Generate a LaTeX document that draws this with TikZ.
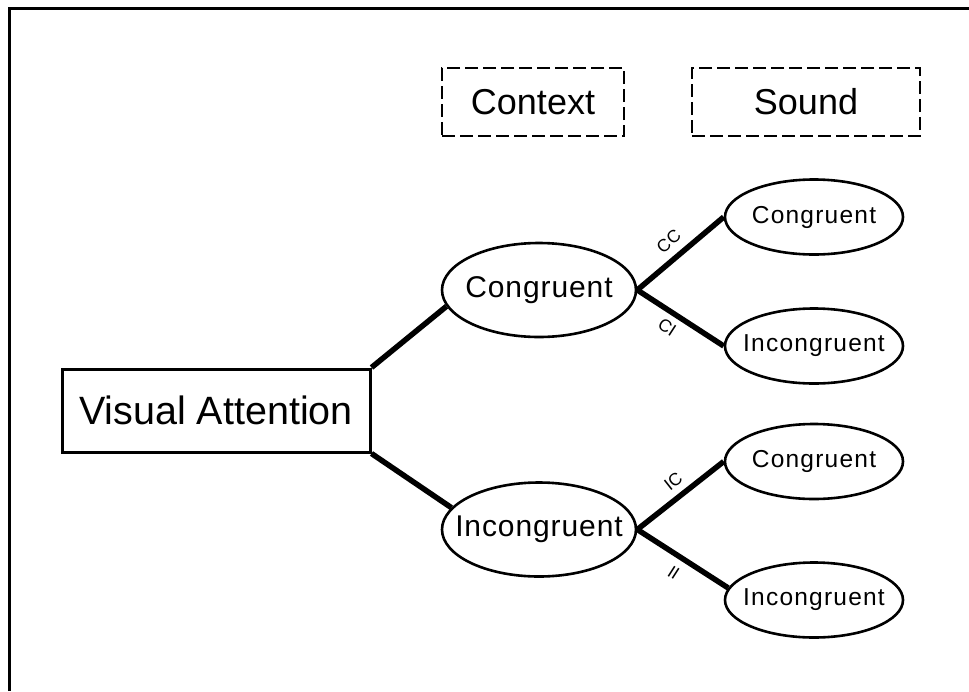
\documentclass[tikz,border=0pt]{standalone}
\usepackage{fontspec}
\setmainfont{Liberation Sans}
\newfontfamily\midfont[LetterSpace=3]{Liberation Sans}
\newfontfamily\smfont[LetterSpace=5]{Liberation Sans}
\usetikzlibrary{shapes.geometric}
\begin{document}
\begin{tikzpicture}[x=1pt,y=-1pt,
  frame/.style={line width=3pt},
  mainbox/.style={draw, rectangle, line width=3pt, minimum width=308pt, minimum height=83pt, inner sep=0pt, font=\fontsize{39.5}{41}\selectfont},
  midell/.style={draw, ellipse, line width=2.6pt, minimum width=194pt, minimum height=94pt, inner sep=0pt},
  smell/.style={draw, ellipse, line width=2.6pt, minimum width=178pt, minimum height=75pt, inner sep=0pt},
  midtxt/.style={font=\midfont\fontsize{30}{31}\selectfont, inner sep=0pt},
  smtxt/.style={font=\smfont\fontsize{24.5}{25}\selectfont, inner sep=0pt},
  conn/.style={line width=5.5pt},
  lbl/.style={font=\fontsize{17.5}{18}\selectfont, sloped, inner sep=1pt},
  dbox/.style={draw, dash pattern=on 13pt off 5pt, line width=2.5pt, minimum height=68pt, inner sep=0pt, font=\fontsize{36}{38}\selectfont}]
\useasboundingbox (0,0) rectangle (969,691);
\fill[white] (0,0) rectangle (969,691);
% outer frame (only top and left edges visible)
\coordinate (fl) at (9,691);
\coordinate (fc) at (9,8);
\coordinate (fr) at (969,8);
\draw[frame] (fl) -- (fc) -- (fr);
% header boxes
\node[dbox, minimum width=182pt] (ctx) at (533,102) {Context};
\node[dbox, minimum width=228pt] (snd) at (806,102) {Sound};
% main box
\node[mainbox] (va) at (216,410.5) {Visual Attention};
% middle ellipses
\node[midell, label={[midtxt]center:Congruent}] (m1) at (539,290) {};
\node[midell, label={[midtxt]center:Incongruent}] (m2) at (539,529.5) {};
% right ellipses
\node[smell, label={[smtxt]center:Congruent}] (r1) at (814,217) {};
\node[smell, label={[smtxt]center:Incongruent}] (r2) at (814,346) {};
\node[smell, label={[smtxt]center:Congruent}] (r3) at (814,461.5) {};
\node[smell, label={[smtxt]center:Incongruent}] (r4) at (814,600) {};
% connectors
\draw[conn] (va.north east) -- (m1.190);
\draw[conn] (va.south east) -- (m2.166);
\draw[conn] (m1.east) -- node[lbl, above=7pt, pos=.49] {CC} (r1.west);
\draw[conn] (m1.east) -- node[lbl, below=5pt, pos=.44] {CI} (r2.west);
\draw[conn] (m2.east) -- node[lbl, above=6pt, pos=.53] {IC} (r3.west);
\draw[conn] (m2.east) -- node[lbl, below=7pt, pos=.5] {II} (r4.172);
\end{tikzpicture}
\end{document}
